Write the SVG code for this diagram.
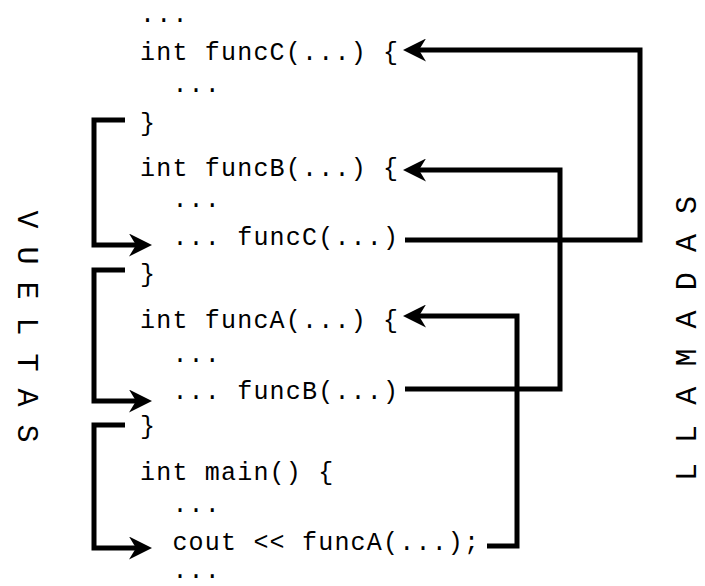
<svg xmlns="http://www.w3.org/2000/svg" width="705" height="586" viewBox="0 0 705 586">
  <style>
    .code { font-family: "Liberation Mono", "DejaVu Sans Mono", monospace; font-size: 25px; letter-spacing: 1.2px; fill: #000; }
    .label { font-family: "Liberation Mono", "DejaVu Sans Mono", monospace; font-size: 30px; fill: #000; text-anchor: middle; }
    .wire { fill: none; stroke: #000; stroke-width: 5; stroke-linejoin: miter; stroke-linecap: butt; }
  </style>
  <defs>
    <marker id="arrow" markerUnits="userSpaceOnUse" markerWidth="23" markerHeight="23" viewBox="0 0 23 23" refX="7" refY="11.5" orient="auto">
      <path d="M0,0 L23,11.5 L0,23 L7,11.5 Z" fill="#000"/>
    </marker>
  </defs>
  <rect width="705" height="586" fill="#fff"/>

  <g id="top">
    <text class="code" x="140" y="22">...</text>
  </g>
  <g id="funcC">
    <text class="code" x="140" y="60">int funcC(...) {</text>
    <text class="code" x="172.4" y="92">...</text>
    <text class="code" x="140" y="131">}</text>
  </g>
  <g id="funcB">
    <text class="code" x="140" y="176">int funcB(...) {</text>
    <text class="code" x="172.4" y="207">...</text>
    <text class="code" x="172.4" y="245">... funcC(...)</text>
    <text class="code" x="140" y="282">}</text>
  </g>
  <g id="funcA">
    <text class="code" x="140" y="328">int funcA(...) {</text>
    <text class="code" x="172.4" y="362">...</text>
    <text class="code" x="172.4" y="399">... funcB(...)</text>
    <text class="code" x="140" y="434">}</text>
  </g>
  <g id="main">
    <text class="code" x="140" y="480">int main() {</text>
    <text class="code" x="172.4" y="512">...</text>
    <text class="code" x="172.4" y="550">cout &lt;&lt; funcA(...);</text>
    <text class="code" x="172.4" y="578">...</text>
  </g>

  <g id="vueltas">
    <text class="label" transform="translate(18,326.5) rotate(90)" x="-107 -71 -36 0 36 71 107" y="0">VUELTAS</text>
  </g>
  <g id="llamadas">
    <text class="label" transform="translate(696,338.5) rotate(-90)" x="-133.5 -95.4 -57.2 -19.1 19.1 57.2 95.4 133.5" y="0">LLAMADAS</text>
  </g>

  <g id="connectors">
    <path class="wire" d="M405,240 H640 V50 H419" marker-end="url(#arrow)"/>
    <path class="wire" d="M405,389 H560 V170 H419" marker-end="url(#arrow)"/>
    <path class="wire" d="M487,546 H517 V316 H419" marker-end="url(#arrow)"/>
    <path class="wire" d="M125,120 H94 V245 H136" marker-end="url(#arrow)"/>
    <path class="wire" d="M125,270 H94 V401 H136" marker-end="url(#arrow)"/>
    <path class="wire" d="M125,425 H94 V548 H136" marker-end="url(#arrow)"/>
  </g>
</svg>
